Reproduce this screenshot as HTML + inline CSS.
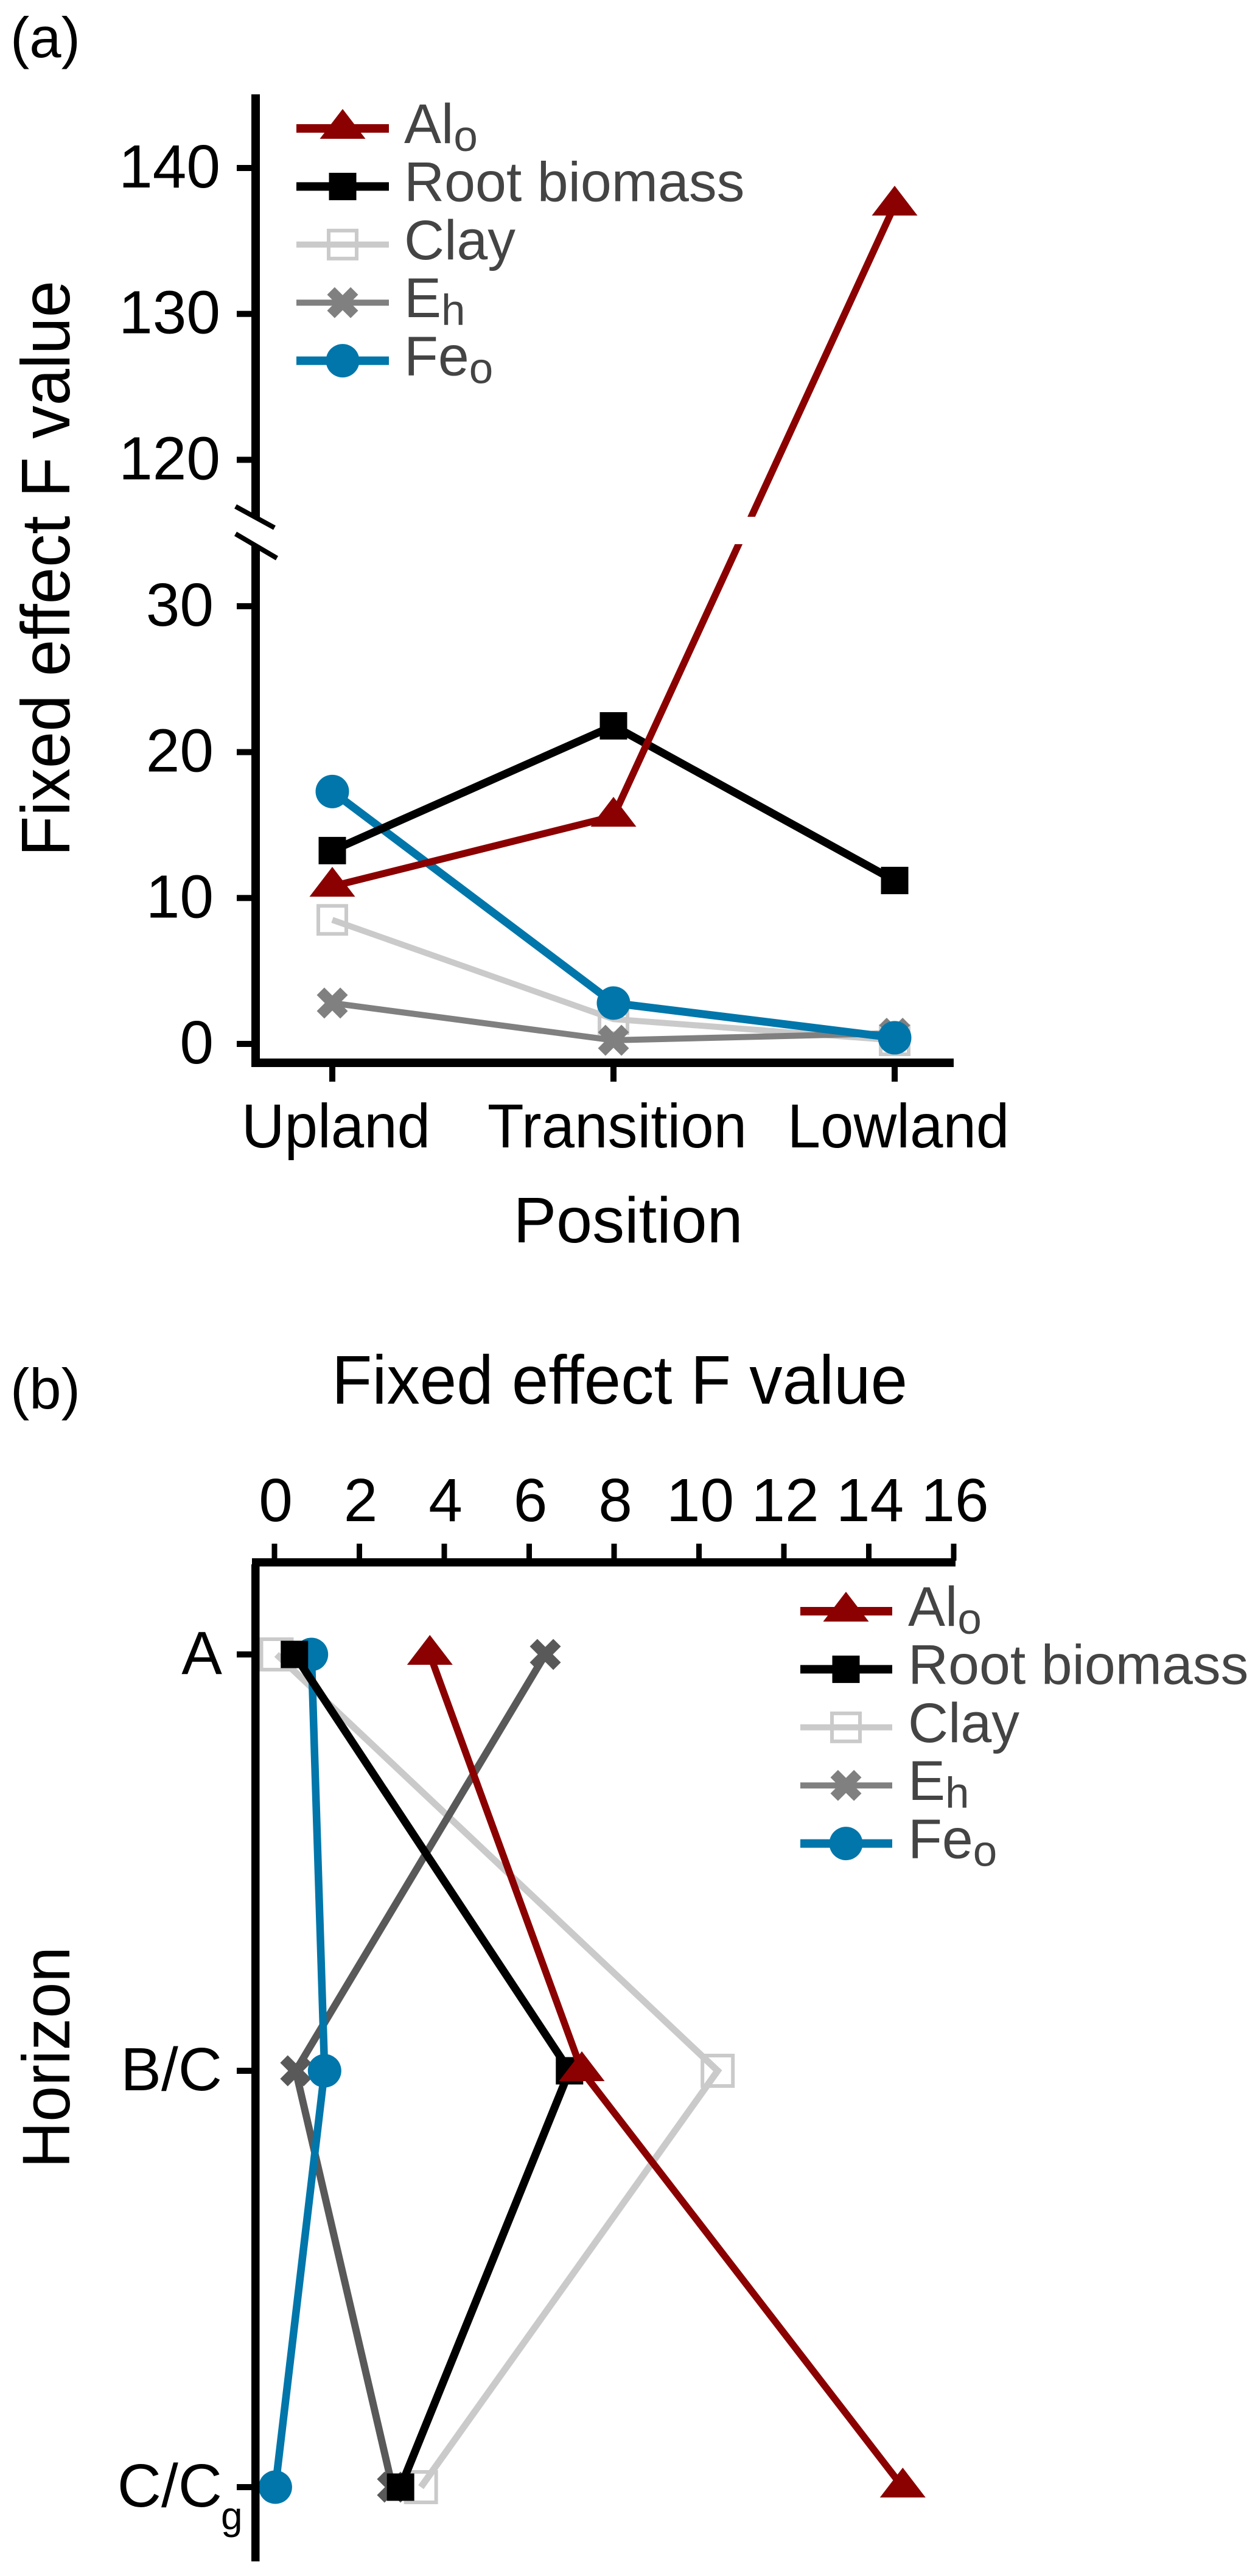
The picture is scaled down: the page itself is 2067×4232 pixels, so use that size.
<!DOCTYPE html>
<html lang="en">
<head>
<meta charset="utf-8">
<title>Fixed effect F value by position and horizon</title>
<style>
html,body{margin:0;padding:0;background:#fff;}
svg{display:block;}
text{font-family:"Liberation Sans",Arial,sans-serif;}
</style>
</head>
<body>
<svg id="chart" xmlns="http://www.w3.org/2000/svg" width="2067" height="4232" viewBox="0 0 2067 4232">
  <rect x="0" y="0" width="2067" height="4232" fill="#fff"/>

  <text x="17" y="94" font-size="94" fill="#000">(a)</text>
  <text transform="translate(114,934) rotate(-90)" text-anchor="middle" font-size="113" textLength="946" lengthAdjust="spacingAndGlyphs" fill="#000">Fixed effect F value</text>
  <text x="1032" y="2041" text-anchor="middle" font-size="106" fill="#000">Position</text>

  <g id="panelA"></g>

  <rect x="413" y="155" width="14" height="695" fill="#000"/>
  <rect x="413" y="896" width="14" height="857" fill="#000"/>
  <rect x="413" y="1739" width="1154" height="14" fill="#000"/>
  <line x1="387" y1="832" x2="451" y2="867" stroke="#000" stroke-width="8"/>
  <line x1="387" y1="877" x2="455" y2="917" stroke="#000" stroke-width="8"/>

  <text x="17" y="2314" font-size="94" fill="#000">(b)</text>
  <text x="1018" y="2306" text-anchor="middle" font-size="113" textLength="946" lengthAdjust="spacingAndGlyphs" fill="#000">Fixed effect F value</text>
  <text transform="translate(114,3380) rotate(-90)" text-anchor="middle" font-size="110" textLength="364" lengthAdjust="spacingAndGlyphs" fill="#000">Horizon</text>

  <g id="panelB"></g>

  <rect x="414" y="2560" width="1156" height="13.5" fill="#000"/>
  <rect x="413" y="2570" width="13.5" height="1638" fill="#000"/>
</svg>

<script>
// Panel (a) data
const positionLabels = ['Upland', 'Transition', 'Lowland'];
const panelATickValues = [0, 10, 20, 30, 120, 130, 140];
const alPosition = [10.8, 15.6, 137.45];
const rootPosition = [13.25, 21.8, 11.2];
const clayPosition = [8.5, 1.7, 0.25];
const ehPosition = [2.8, 0.25, 0.73];
const fePosition = [17.3, 2.8, 0.42];

// Panel (b) data
const horizonLabels = ['A', 'B/C', 'C/C'];
const horizonSubscripts = ['', '', 'g'];
const panelBTickValues = [0, 2, 4, 6, 8, 10, 12, 14, 16];
const alHorizon = [3.66, 7.24, 14.8];
const rootHorizon = [0.47, 6.95, 2.97];
const clayHorizon = [0.05, 10.44, 3.45];
const ehHorizon = [6.38, 0.5, 2.78];
const feHorizon = [0.87, 1.18, 0.02];

const legendNames = ['Al', 'Root biomass', 'Clay', 'E', 'Fe'];
const legendSubscripts = ['o', '', '', 'h', 'o'];
const legendKeys = ['al', 'root', 'clay', 'eh', 'fe'];

const NS = 'http://www.w3.org/2000/svg';
const colors = { al: '#8b0000', root: '#000000', clay: '#cacaca', eh: '#808080', fe: '#0076aa' };
const widthsA = { al: 11.5, root: 13, clay: 10, eh: 10, fe: 13 };
const widthsB = { al: 11.5, root: 13, clay: 11, eh: 12, fe: 12.5 };
const legendWidths = { al: 14, root: 14, clay: 10, eh: 10, fe: 14 };

function make(tag, attrs, parent) {
  const node = document.createElementNS(NS, tag);
  for (const k in attrs) node.setAttribute(k, attrs[k]);
  parent.appendChild(node);
  return node;
}

// Axis functions
function xPosition(i) { return 546 + i * 462; }
function yValue(v) { return v > 60 ? 276 + (140 - v) * 23.97 : 1715 - v * 23.97; }
function xValueB(v) { return 451 + v * 69.75; }
function yHorizon(i) { return 2718 + i * 684; }

function drawMarker(kind, cx, cy, color, parent, name, clayHalf) {
  const g = make('g', { transform: 'translate(' + cx + ',' + cy + ')' }, parent);
  
  
  if (kind === 'al') {
    make('polygon', { points: '0,-32 37.5,17 -37.5,17', fill: color }, g);
  } else if (kind === 'root') {
    make('rect', { x: -22.5, y: -22.5, width: 45, height: 45, fill: color }, g);
  } else if (kind === 'clay') {
    const h = clayHalf || 23;
    make('rect', { x: -h, y: -h, width: 2 * h, height: 2 * h, fill: 'none', stroke: color, 'stroke-width': 6 }, g);
  } else if (kind === 'eh') {
    make('line', { x1: -19.3, y1: -19.3, x2: 19.3, y2: 19.3, stroke: color, 'stroke-width': 17.5 }, g);
    make('line', { x1: -19.3, y1: 19.3, x2: 19.3, y2: -19.3, stroke: color, 'stroke-width': 17.5 }, g);
  } else {
    make('circle', { cx: 0, cy: 0, r: 27.5, fill: color }, g);
  }
}

function drawSeries(parent, key, color, points, prefix, widths, clayHalf) {
  const line = make('polyline', {
    points: points.map(function (p) { return p[0] + ',' + p[1]; }).join(' '),
    fill: 'none', stroke: color, 'stroke-width': widths[key], 'stroke-linejoin': 'miter'
  }, parent);
  
  
  points.forEach(function (p, i) {
    drawMarker(key, p[0], p[1], color, parent, prefix + '-point-' + key + '-' + i, clayHalf);
  });
}

function drawLegend(parent, xLineStart, xMarker, xLineEnd, xText, yTop, prefix) {
  legendKeys.forEach(function (key, i) {
    const y = yTop + i * 95.4;
    const entry = make('g', {}, parent);
    
    
    const swatch = make('line', { x1: xLineStart, x2: xLineEnd, y1: y, y2: y, stroke: colors[key], 'stroke-width': legendWidths[key] }, entry);
    
    
    drawMarker(key, xMarker, y, colors[key], entry, prefix + '-legend-marker-' + key, 23);
    const label = make('text', { x: xText, y: y + 24, 'font-size': 91.5, fill: '#444444' }, entry);
    
    
    label.appendChild(document.createTextNode(legendNames[i]));
    if (legendSubscripts[i]) {
      const sub = make('tspan', { dy: 13, 'font-size': 71 }, label);
      sub.textContent = legendSubscripts[i];
    }
  });
}

/* ---------- Panel (a) ---------- */
const panelA = document.getElementById('panelA');

panelATickValues.forEach(function (v) {
  const y = yValue(v);
  const tick = make('rect', { x: 389, y: y - 5, width: 26, height: 10, fill: '#000' }, panelA);
  
  
  const label = make('text', { x: v > 60 ? 362 : 351, y: y + 32, 'text-anchor': 'end', 'font-size': 100, fill: '#000' }, panelA);
  
  
  label.textContent = String(v);
});

positionLabels.forEach(function (name, i) {
  const x = xPosition(i);
  const tick = make('rect', { x: x - 5, y: 1750, width: 10, height: 27, fill: '#000' }, panelA);
  
  
  const label = make('text', { x: x + 6, y: 1885, 'text-anchor': 'middle', 'font-size': 102, fill: '#000' }, panelA);
  
  
  label.textContent = name;
  label.setAttribute('textLength', (label.getComputedTextLength() * 0.96).toFixed(1));
  label.setAttribute('lengthAdjust', 'spacingAndGlyphs');
});

function positionPoints(values) {
  return values.map(function (v, i) { return [xPosition(i), yValue(v)]; });
}
drawSeries(panelA, 'clay', colors.clay, positionPoints(clayPosition), 'panel-a', widthsA, 23);
drawSeries(panelA, 'eh', colors.eh, positionPoints(ehPosition), 'panel-a', widthsA);
drawSeries(panelA, 'fe', colors.fe, positionPoints(fePosition), 'panel-a', widthsA);
drawSeries(panelA, 'root', colors.root, positionPoints(rootPosition), 'panel-a', widthsA);
drawSeries(panelA, 'al', colors.al, positionPoints(alPosition), 'panel-a', widthsA);

const breakGap = make('rect', { x: 1170, y: 849, width: 110, height: 45, fill: '#fff' }, panelA);



drawLegend(panelA, 487, 563, 639, 664, 211, 'panel-a');

/* ---------- Panel (b) ---------- */
const panelB = document.getElementById('panelB');

panelBTickValues.forEach(function (v) {
  const x = xValueB(v);
  const tick = make('rect', { x: x - 4.5, y: 2536, width: 9, height: 28, fill: '#000' }, panelB);
  
  
  const label = make('text', { x: x + 2, y: 2499, 'text-anchor': 'middle', 'font-size': 100, fill: '#000' }, panelB);
  
  
  label.textContent = String(v);
});

horizonLabels.forEach(function (name, i) {
  const y = yHorizon(i);
  const tick = make('rect', { x: 389, y: y - 5, width: 26, height: 10, fill: '#000' }, panelB);
  
  
  const label = make('text', { x: 365, y: y + 32, 'text-anchor': 'end', 'font-size': 100, fill: '#000' }, panelB);
  
  
  label.textContent = name;
  if (horizonSubscripts[i]) {
    const sub = make('text', { x: 363, y: y + 69, 'font-size': 64, fill: '#000' }, panelB);
    
    
    sub.textContent = horizonSubscripts[i];
  }
});

function horizonPoints(values) {
  return values.map(function (v, i) { return [xValueB(v), yHorizon(i)]; });
}
drawSeries(panelB, 'clay', colors.clay, horizonPoints(clayHorizon), 'panel-b', widthsB, 25);
drawSeries(panelB, 'eh', '#595959', horizonPoints(ehHorizon), 'panel-b', widthsB);
drawSeries(panelB, 'fe', colors.fe, horizonPoints(feHorizon), 'panel-b', widthsB);
drawSeries(panelB, 'root', colors.root, horizonPoints(rootHorizon), 'panel-b', widthsB);
drawSeries(panelB, 'al', colors.al, horizonPoints(alHorizon), 'panel-b', widthsB);

drawLegend(panelB, 1315, 1390, 1466, 1492, 2647, 'panel-b');
</script>
</body>
</html>
